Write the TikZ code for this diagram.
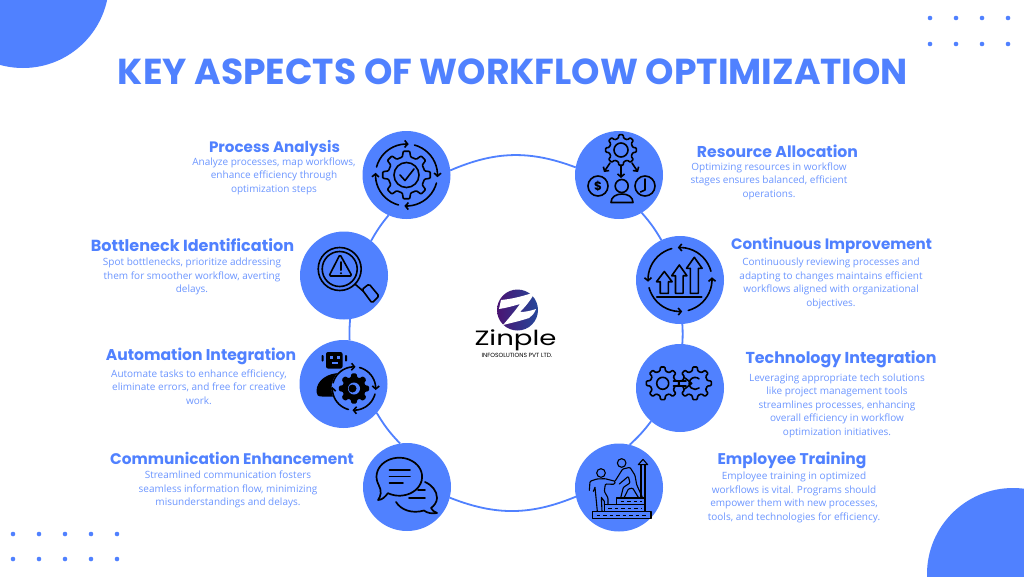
\documentclass[tikz,border=0pt]{standalone}
\usepackage{fontspec}
\usetikzlibrary{arrows.meta}
\setmainfont{Poppins}
\newfontfamily\opensans{Open Sans}
\definecolor{zblue}{HTML}{5081FF}
\definecolor{zbody}{HTML}{6C96FF}
\definecolor{zpurple}{HTML}{4A1472}
\definecolor{zindigo}{HTML}{26479A}
\tikzset{
  hub/.style={circle,fill=zblue,minimum size=88pt,inner sep=0pt,outer sep=0pt},
  link/.style={draw=zblue,line width=1.8pt},
  head/.style={text=zblue,font=\bfseries\fontsize{#1}{18}\selectfont,inner sep=0pt},
  head/.default=15.1,
  body/.style={text=zbody,font=\opensans\fontsize{10}{13.5}\selectfont,align=center,inner sep=0pt},
  icon/.style={draw=black,line width=1.6pt,line join=round,line cap=round},
  thinicon/.style={draw=black,line width=1.1pt,line join=round,line cap=round},
  barb/.style={-{Straight Barb[length=3pt,width=7pt]}},
  dot/.style={fill=zblue},
}
% gear: cx cy router rinner teeth
\newcommand{\gearp}[6][]{%
  \draw[icon,rounded corners=0.9pt,#1] ({#2+#5*cos(-0.5*360/#6)},{#3+#5*sin(-0.5*360/#6)})
  \foreach \i [evaluate=\i as \b using (\i-1)*360/#6] in {1,...,#6}{
    -- ({#2+#5*cos(\b-0.29*360/#6)},{#3+#5*sin(\b-0.29*360/#6)})
    -- ({#2+#4*cos(\b-0.17*360/#6)},{#3+#4*sin(\b-0.17*360/#6)})
    -- ({#2+#4*cos(\b+0.17*360/#6)},{#3+#4*sin(\b+0.17*360/#6)})
    -- ({#2+#5*cos(\b+0.29*360/#6)},{#3+#5*sin(\b+0.29*360/#6)})
  } -- cycle;}
% four clockwise arrows
\newcommand{\cyccw}[3]{%
  \foreach \a in {0,90,180,270}{
    \draw[icon,barb] plot[smooth,samples=12,domain=\a+15:\a+94] ({#1+#3*cos(\x)},{#2+#3*sin(\x)});}}
% four counter-clockwise arrows
\newcommand{\cycccw}[3]{%
  \foreach \a in {0,90,180,270}{
    \draw[icon,barb] plot[smooth,samples=12,domain=\a-15:\a-94] ({#1+#3*cos(\x)},{#2+#3*sin(\x)});}}
% hollow up arrow: cx tipY headBaseY halfhead halfshaft bottom
\newcommand{\uparr}[6]{%
  \draw[icon] (#1,#2) -- ({#1+#4},#3) -- ({#1+#5},#3) -- ({#1+#5},#6) -- ({#1-#5},#6) -- ({#1-#5},#3) -- ({#1-#4},#3) -- cycle;}
\begin{document}
\begin{tikzpicture}[x=1pt,y=-1pt]
\useasboundingbox (0,0) rectangle (1024,576);
\fill[white] (0,0) rectangle (1024,576);
% corners
\begin{scope}
\clip (0,0) rectangle (1024,576);
\fill[zblue] (23,-18) circle[radius=86pt];
\fill[zblue] (1013,574) circle[radius=86pt];
\end{scope}
\foreach \y in {18,44}\foreach \x in {930,956,982,1008}{\fill[dot] (\x,\y) circle[radius=2.3pt];}
\foreach \y in {534,559}\foreach \x in {13,39,65,91,117}{\fill[dot] (\x,\y) circle[radius=2.3pt];}
% title
\node[text=zblue,font=\bfseries\fontsize{36.1}{40}\selectfont,inner sep=0pt] (title) at (513,72) {KEY ASPECTS OF WORKFLOW OPTIMIZATION};
% hubs
\node[hub] (c1) at (406.5,175) {};
\node[hub] (c2) at (344,275.5) {};
\node[hub] (c3) at (343.5,384) {};
\node[hub] (c4) at (407,487) {};
\node[hub] (c5) at (619,175) {};
\node[hub] (c6) at (680,280) {};
\node[hub] (c7) at (680,388) {};
\node[hub] (c8) at (619,487.5) {};
% ring connectors
\draw[link] (c1.6.5) to[bend left=22] (c5.170);
\draw[link] (c5.-59) to[bend left=5.4] (c6.115);
\draw[link] (c6.-87) to[bend left=3.6] (c7.87);
\draw[link] (c7.-131) to[bend left=5] (c8.76);
\draw[link] (c8.192) to[bend left=22] (c4.-14);
\draw[link] (c4.99) to[bend left=6.5] (c3.-41);
\draw[link] (c3.82) to[bend left=3.6] (c2.-82);
\draw[link] (c2.52) to[bend left=5] (c1.-114);
% left texts
\node[head] (h1) at (274.5,148.5) {Process Analysis};
\node[body] (b1) at (274,176) {Analyze processes, map workflows,\\enhance efficiency through\\optimization steps};
\node[head=16.05] (h2) at (192.5,245) {Bottleneck Identification};
\node[body] (b2) at (192,276.5) {Spot bottlenecks, prioritize addressing\\them for smoother workflow, averting\\delays.};
\node[head=15.6] (h3) at (201,356.5) {Automation Integration};
\node[body] (b3) at (199,387) {Automate tasks to enhance efficiency,\\eliminate errors, and free for creative\\work.};
\node[head=15.35] (h4) at (232,458) {Communication Enhancement};
\node[body] (b4) at (228,489.5) {Streamlined communication fosters\\seamless information flow, minimizing\\misunderstandings and delays.};
% right texts
\node[head=15.7] (h5) at (777.5,151.5) {Resource Allocation};
\node[body] (b5) at (769,181) {Optimizing resources in workflow\\stages ensures balanced, efficient\\operations.};
\node[head] (h6) at (831.5,245.5) {Continuous Improvement};
\node[body] (b6) at (831,283.5) {Continuously reviewing processes and\\adapting to changes maintains efficient\\workflows aligned with organizational\\objectives.};
\node[head=15.85] (h7) at (841,359.5) {Technology Integration};
\node[body] (b7) at (837,405.5) {Leveraging appropriate tech solutions\\like project management tools\\streamlines processes, enhancing\\overall efficiency in workflow\\optimization initiatives.};
\node[head=15.5] (h8) at (792,460) {Employee Training};
\node[body] (b8) at (794,497.5) {Employee training in optimized\\workflows is vital. Programs should\\empower them with new processes,\\tools, and technologies for efficiency.};
% logo
\shade[left color=zpurple,right color=zindigo] (517.5,310) circle[radius=20.5pt];
\fill[white] (501,300) .. controls (512,299) and (524,296) .. (535,292) .. controls (531,300) and (525,307) .. (520,312) .. controls (525,312) and (530,311) .. (536,309) .. controls (534,314) and (532,316) .. (529,318) .. controls (520,321) and (511,323) .. (503,325) .. controls (509,318) and (515,311) .. (520,304) .. controls (513,306) and (506,308) .. (499,309) -- cycle;
\node[text=black,font=\fontsize{23}{24}\selectfont,inner sep=0pt] (logo) at (515.5,340) {\scalebox{1.2}[0.9]{Zinple}};
\node[text=black,font=\fontsize{6}{6}\selectfont,inner sep=0pt] (logosub) at (517,355) {INFOSOLUTIONS PVT LTD.};
% icon 1
\cyccw{406.5}{175}{31}
\gearp{406.5}{175}{24}{18.5}{8}
\draw[icon] (406.5,175) circle[radius=12.5pt];
\draw[icon] (400,175) -- (405,180.5) -- (414,169);
% icon 2
\draw[icon] (339.7,269) circle[radius=21.5pt];
\draw[icon] (339.7,269) circle[radius=17.5pt];
\draw[icon,rounded corners=1.5pt] (340,254.5) -- (329,276) -- (352,276) -- cycle;
\draw[icon,line width=2pt] (341,262) -- (341,270);
\fill (341,273.2) circle[radius=1.2pt];
\draw[icon] (355.5,284.5) -- (363,291);
\draw[icon,rounded corners=1.5pt] (362,289.5) -- (369,284) -- (379,296) -- (372,303) -- cycle;
% icon 3
\fill[rounded corners=2pt] (326,352) rectangle (342.5,368.5);
\fill[zblue] (329.5,356) rectangle (332.5,359);
\fill[zblue] (336.5,356) rectangle (339.5,359);
\fill[zblue] (331.5,362) rectangle (337.5,363.5);
\fill[rounded corners=0.8pt] (321.5,355) rectangle (323.5,361.5);
\fill[rounded corners=0.8pt] (345,355) rectangle (347,361.5);
\fill (316.5,392) .. controls (316,380) and (328,373) .. (340,373) -- (350,375) -- (342,396.5) -- (322,396.5) .. controls (318,396.5) and (316.5,395) .. (316.5,392) -- cycle;
\fill[zblue] (354,388.5) circle[radius=22.5pt];
\cyccw{354}{388.5}{21.7}
\gearp[fill=black]{354}{388.5}{14.5}{11}{8}
\fill[zblue] (354,388.5) circle[radius=6pt];
\fill (352.5,388.5) circle[radius=4pt];
% icon 4
\draw[icon,line width=1.7pt] plot[smooth,samples=40,domain=155:480] ({399.3+22.8*cos(\x)},{476.7+19*sin(\x)}) .. controls (385,497) and (382,500) .. (378,500) .. controls (381,496) and (382,491) .. (378.6,484.7);
\draw[icon,line width=1.7pt] (389.5,470) -- (410,470) (389.5,476.5) -- (410,476.5) (389.5,482.7) -- (403,482.7);
\draw[icon,line width=1.7pt] (425,482) .. controls (432,485) and (437,491) .. (437,498) .. controls (437,502) and (434,506) .. (431,508) .. controls (432,510) and (434,512) .. (437,513) .. controls (432,514) and (427,513) .. (424,510.5) .. controls (412,514) and (401,510) .. (396,502);
\draw[icon] (418,490) -- (425,490) (409,497.7) -- (425,497.7);
% icon 5
\gearp{621}{150}{15.5}{12}{8}
\draw[icon] (621,150) circle[radius=7pt];
\draw[icon,barb] (621,165) -- (621,178);
\draw[icon,barb] (610,163) -- (604,172);
\draw[icon,barb] (632,163) -- (638,172);
\draw[icon] (598,186) circle[radius=10pt];
\node[font=\bfseries\fontsize{12}{12}\selectfont,inner sep=0pt] (dollar) at (598,186) {\$};
\draw[icon] (645,186) circle[radius=10pt];
\draw[icon] (645,179) -- (645,190) -- (640.5,192);
\draw[icon] (621.7,186) circle[radius=6.5pt];
\draw[icon] (611,202.5) -- (633,202.5) .. controls (633,197) and (628,194) .. (622,194) .. controls (616,194) and (611,197) .. (611,202.5) -- cycle;
% icon 6
\cycccw{680}{279.5}{32}
\uparr{664.3}{271.5}{281.7}{7.8}{4.1}{293.3}
\uparr{679.3}{265}{275.7}{7.6}{3.8}{293.3}
\uparr{694.3}{257.3}{268.3}{7.8}{4}{293.3}
\draw[icon] (656.7,296.7) -- (701.7,296.7);
% icon 7
\gearp{662.7}{383.3}{16.5}{12.5}{8}
\gearp{695}{383.3}{16.5}{12.5}{8}
\draw[icon] (662.7,383.3) circle[radius=6pt];
\draw[icon] (699,378.8) arc[start angle=50,end angle=310,radius=6pt];
\draw[icon] (673.5,381) -- (686,381) (673.5,385.7) -- (686,385.7);
\draw[icon] (685,378) -- (691.7,383.3) -- (685,388.7);
% icon 8
\begin{scope}[shift={(580,448)},x=0.3333pt,y=-0.3333pt]
\draw[thinicon] (37,190) rectangle (213,212);
\draw[thinicon] (73,170) rectangle (195,190);
\draw[thinicon] (110,150) rectangle (195,170);
\draw[black,line width=0.8pt,dash pattern=on 3.5pt off 3pt] (50,201) -- (205,201) (85,180) -- (187,180) (122,160) -- (187,160);
\draw[thinicon] (183,150) -- (183,50) (195,150) -- (195,50);
\draw[thinicon] (189,34) -- (175,50) -- (203,50) -- cycle;
\draw[thinicon] (63,75) circle[radius=4.3pt];
\draw[thinicon] (125,45) circle[radius=4.3pt];
\draw[thinicon,rounded corners=1pt] (28,127) -- (30,100) -- (50,93) -- (75,92) -- (106,100) -- (103,109) -- (76,108) -- (73,130) -- (84,150) -- (84,170);
\draw[thinicon] (40,130) -- (45,118) -- (52,190) (66,190) -- (64,148) -- (73,160) -- (73,170);
\draw[thinicon,rounded corners=1pt] (106,98) -- (128,63) -- (150,58) -- (165,82) -- (170,110) -- (188,150) -- (176,150) -- (158,120) -- (145,123) -- (132,150) -- (122,150) -- (130,118) -- (150,105) -- (145,85) -- (118,108);
\end{scope}
\end{tikzpicture}
\end{document}
